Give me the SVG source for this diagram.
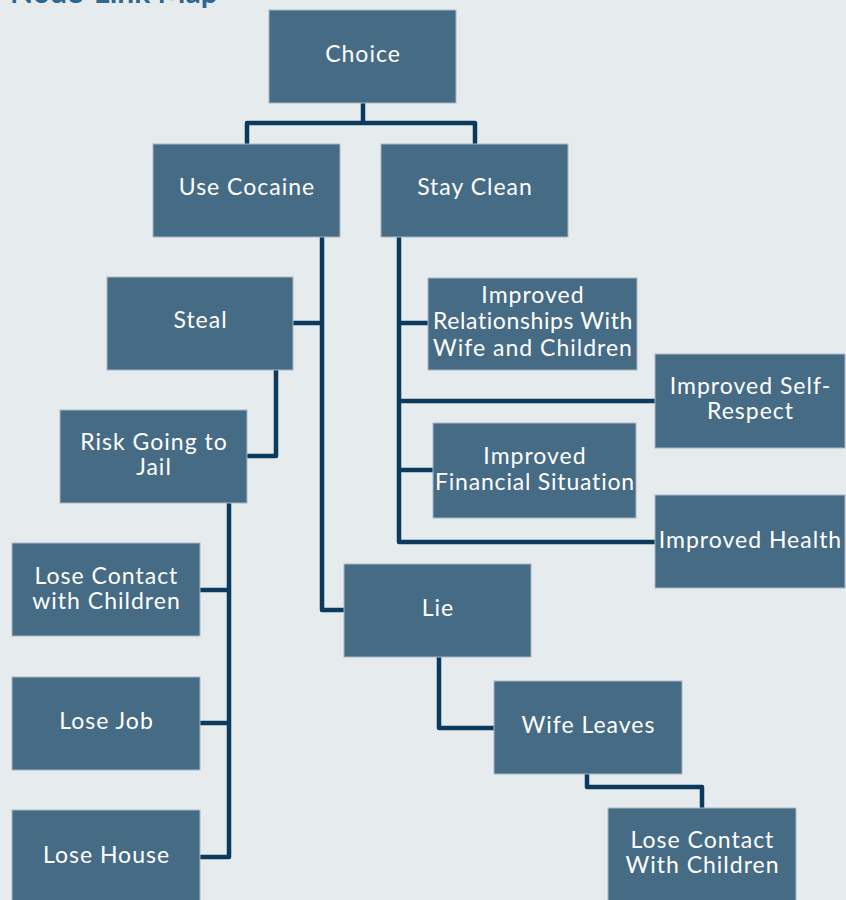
<svg xmlns="http://www.w3.org/2000/svg" width="846" height="900" viewBox="0 0 846 900">
<style>
.bg{fill:#e6ebee}
.box{fill:#466b85;stroke:#a9b8c3;stroke-width:1}
.t{font-family:Lato,"Noto Sans","DejaVu Sans",sans-serif;font-size:23px;fill:#ffffff;text-anchor:middle;letter-spacing:1px}
.c{fill:none;stroke:#0b3a5e;stroke-width:4.5;stroke-linejoin:round;stroke-linecap:butt}
.title{font-family:Lato,"Noto Sans","DejaVu Sans",sans-serif;font-size:30px;font-weight:bold;fill:#2d6690}
</style>
<rect class="bg" x="0" y="0" width="846" height="900"/>
<text class="title" x="10" y="3">Node-Link Map</text>
<g id="connectors">
<path class="c" d="M363,103 V123 M247,144 V123 H475 V144"/>
<path class="c" d="M322,237 V610 H344"/>
<path class="c" d="M293,323 H322"/>
<path class="c" d="M276,370 V456 H247"/>
<path class="c" d="M229,503 V857 H200 M200,590 H229 M200,723 H229"/>
<path class="c" d="M399,237 V542 H655 M399,323 H428 M399,401 H655 M399,470 H433"/>
<path class="c" d="M439,657 V728 H494"/>
<path class="c" d="M587,774 V787 H702 V808"/>
</g>
<g id="choice"><rect class="box" x="269" y="10" width="187" height="93"/><text class="t" x="363" y="62">Choice</text></g>
<g id="use-cocaine"><rect class="box" x="153" y="144" width="187" height="93"/><text class="t" x="247" y="195">Use Cocaine</text></g>
<g id="stay-clean"><rect class="box" x="381" y="144" width="187" height="93"/><text class="t" x="475" y="195">Stay Clean</text></g>
<g id="steal"><rect class="box" x="107" y="277" width="186" height="93"/><text class="t" x="200.5" y="328">Steal</text></g>
<g id="improved-relationships"><rect class="box" x="428" y="278" width="209" height="92"/><text class="t" x="533" y="303">Improved</text><text class="t" x="533" y="329" style="letter-spacing:0.6px">Relationships With</text><text class="t" x="533" y="356">Wife and Children</text></g>
<g id="improved-self-respect"><rect class="box" x="655" y="354" width="190" height="94"/><text class="t" x="750.5" y="394">Improved Self-</text><text class="t" x="750.5" y="419">Respect</text></g>
<g id="risk-jail"><rect class="box" x="60" y="410" width="187" height="93"/><text class="t" x="154" y="450">Risk Going to</text><text class="t" x="154" y="475">Jail</text></g>
<g id="improved-financial"><rect class="box" x="433" y="423" width="203" height="95"/><text class="t" x="535" y="464">Improved</text><text class="t" x="535" y="490" style="letter-spacing:0.8px">Financial Situation</text></g>
<g id="improved-health"><rect class="box" x="655" y="495" width="190" height="93"/><text class="t" x="750.5" y="548">Improved Health</text></g>
<g id="lose-contact-1"><rect class="box" x="12" y="543" width="188" height="93"/><text class="t" x="106.5" y="584">Lose Contact</text><text class="t" x="106.5" y="609">with Children</text></g>
<g id="lie"><rect class="box" x="344" y="564" width="187" height="93"/><text class="t" x="438" y="616">Lie</text></g>
<g id="lose-job"><rect class="box" x="12" y="677" width="188" height="93"/><text class="t" x="106.5" y="729">Lose Job</text></g>
<g id="wife-leaves"><rect class="box" x="494" y="681" width="188" height="93"/><text class="t" x="588.5" y="733">Wife Leaves</text></g>
<g id="lose-house"><rect class="box" x="12" y="810" width="188" height="95"/><text class="t" x="106.5" y="863">Lose House</text></g>
<g id="lose-contact-2"><rect class="box" x="608" y="808" width="188" height="97"/><text class="t" x="702.5" y="848">Lose Contact</text><text class="t" x="702.5" y="873">With Children</text></g>
</svg>
